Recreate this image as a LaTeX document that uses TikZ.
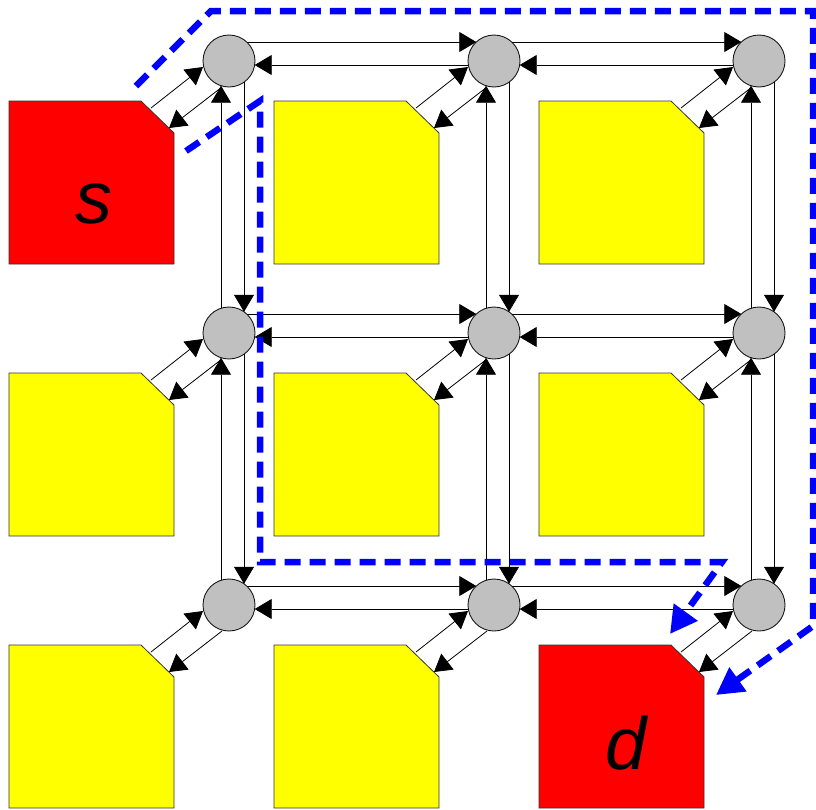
\documentclass[tikz,border=0pt]{standalone}
\usepackage{fontspec}
\setmainfont{Liberation Sans}
\usetikzlibrary{
  arrows.meta, % Triangle 箭头样式
  calc         % 坐标计算
}
\definecolor{tilered}{RGB}{255,0,0}
\definecolor{tileyellow}{RGB}{255,255,0}
\definecolor{routergray}{RGB}{192,192,192}
\definecolor{routeblue}{RGB}{0,0,255}

\tikzset{
  tile/.style={draw=black!80, line width=0.8pt},
  router/.style={circle, draw=black!90, line width=0.9pt, fill=routergray,
    minimum size=52pt, inner sep=0pt},
  link/.style={line width=0.8pt, -{Triangle[length=17pt, width=20pt]}},
  route/.style={routeblue, line width=6.5pt, dash pattern=on 16pt off 9pt,
    -{Triangle[length=27pt, width=28pt]}},
  tiletext/.style={font=\fontsize{74}{88}\selectfont\itshape, inner sep=0pt}
}

\begin{document}
\begin{tikzpicture}[x=1pt, y=-1pt]
  \useasboundingbox (0,0) rectangle (816,809);

  % 绘制九个处理单元（右上角切角）
  \foreach \i/\j/\c in {0/0/tilered, 1/0/tileyellow, 2/0/tileyellow,
                        0/1/tileyellow, 1/1/tileyellow, 2/1/tileyellow,
                        0/2/tileyellow, 1/2/tileyellow, 2/2/tilered} {
    \coordinate (t\i\j) at (9+265*\i, 101+272*\j);
    \draw[tile, fill=\c] (t\i\j) -- ++(132,0) -- ++(33,32) -- ++(0,131)
      -- ++(-165,0) -- cycle;
  }

  % 绘制路由器
  \foreach \i in {0,1,2} {
    \foreach \j in {0,1,2} {
      \node[router] (r\i\j) at (229+265*\i, 61+272*\j) {};
    }
  }

  % 处理单元与路由器之间的双向连线
  \foreach \i in {0,1,2} {
    \foreach \j in {0,1,2} {
      \draw[link] ($(r\i\j)+(-78,47)$) -- ($(r\i\j)+(-26,6)$);
      \draw[link] ($(r\i\j)+(-7,26)$) -- ($(r\i\j)+(-60,67)$);
    }
  }

  % 水平方向的路由器连线
  \foreach \i [evaluate=\i as \k using int(\i+1)] in {0,1} {
    \foreach \j in {0,1,2} {
      \draw[link] ($(r\i\j)+(17.7,-19)$) -- ($(r\k\j)+(-17.7,-19)$);
      \draw[link] ($(r\k\j)+(-25.7,4)$) -- ($(r\i\j)+(25.7,4)$);
    }
  }

  % 竖直方向的路由器连线
  \foreach \i in {0,1,2} {
    \foreach \j [evaluate=\j as \k using int(\j+1)] in {0,1} {
      \draw[link] ($(r\i\k)+(-8,-24.7)$) -- ($(r\i\j)+(-8,24.7)$);
      \draw[link] ($(r\i\j)+(15,21.2)$) -- ($(r\i\k)+(15,-21.2)$);
    }
  }

  % 源节点与目的节点
  \node[tiletext, anchor=base] (s) at ($(t00)+(85,122)$) {s};
  \node[tiletext, anchor=base] (d) at ($(t22)+(87,124)$) {d};

  % 两条路由路径（蓝色虚线）
  \draw[route] ($(t00)+(127,-15)$) -- ($(t00)+(202,-90)$) -- (813,11)
    -- (813,626) -- ($(t22)+(177,50)$);
  \draw[route] ($(t00)+(177,50)$) -- (260,101) -- (260,562) -- (722,562)
    -- ($(t22)+(131,-11)$);
\end{tikzpicture}
\end{document}
